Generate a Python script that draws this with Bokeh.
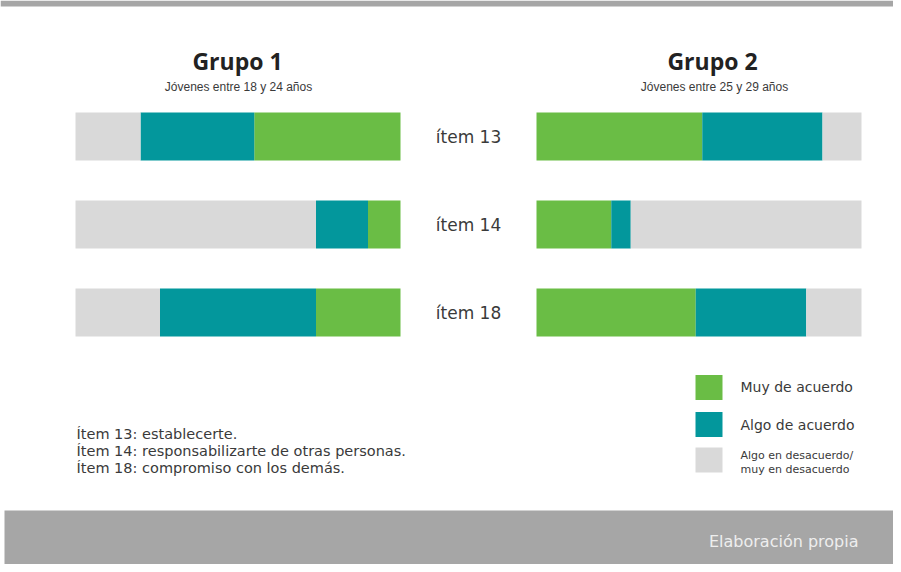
from bokeh.plotting import figure
from bokeh.models import Range1d, ColumnDataSource
from bokeh.core.properties import value
from bokeh.embed import file_html
from bokeh.resources import INLINE

# ---- data ----
items = ["ítem 13", "ítem 14", "ítem 18"]
g1_muy = [45, 10, 26]
g1_algo = [35, 16, 48]
g1_des = [20, 74, 26]
g2_muy = [51, 23, 49]
g2_algo = [37, 6, 34]
g2_des = [12, 71, 17]
groups = ["Grupo 1", "Grupo 2"]
subtitles = ["Jóvenes entre 18 y 24 años", "Jóvenes entre 25 y 29 años"]
legend_labels = ["Muy de acuerdo", "Algo de acuerdo", "Algo en desacuerdo/\nmuy en desacuerdo"]
notes = ["Ítem 13: establecerte.",
         "Ítem 14: responsabilizarte de otras personas.",
         "Ítem 18: compromiso con los demás."]
source_text = "Elaboración propia"

GREEN = "#6abd45"
TEAL = "#03979c"
GRAY = "#d9d9d9"
FONT = "DejaVu Sans"

# ---- layout (picture pixel coordinates) ----
W, H = 893, 564
X0, Y0 = 0, 0
X1, Y1 = X0 + W, Y0 + H

p = figure(width=W, height=H, output_backend="svg", toolbar_location=None,
           x_range=Range1d(X0, X1), y_range=Range1d(Y1, Y0),
           min_border=0, background_fill_color="white")
p.axis.visible = False
p.grid.visible = False
p.outline_line_color = None

# bar scales
px_per_unit = 3.25
g1_zero, g2_zero = 400, 536
p.extra_x_ranges = {
    "g1": Range1d(start=(g1_zero - X0) / px_per_unit, end=(g1_zero - X1) / px_per_unit),
    "g2": Range1d(start=(X0 - g2_zero) / px_per_unit, end=(X1 - g2_zero) / px_per_unit),
}
row0, row_step, bar_h = 136, 88, 48
p.extra_y_ranges = {
    "items": Range1d(start=(Y1 - row0) / row_step, end=(Y0 - row0) / row_step),
}

idx = list(range(len(items)))
src1 = ColumnDataSource(dict(y=idx, muy=g1_muy, algo=g1_algo, des=g1_des))
src2 = ColumnDataSource(dict(y=idx, muy=g2_muy, algo=g2_algo, des=g2_des))

p.hbar_stack(["muy", "algo", "des"], y="y", height=bar_h / row_step, source=src1,
             color=[GREEN, TEAL, GRAY], line_color=None,
             x_range_name="g1", y_range_name="items")
p.hbar_stack(["muy", "algo", "des"], y="y", height=bar_h / row_step, source=src2,
             color=[GREEN, TEAL, GRAY], line_color=None,
             x_range_name="g2", y_range_name="items")

# item labels
p.text(x=[468] * len(items), y=idx, text=items, y_range_name="items",
       text_font=value(FONT), text_font_size="17px", text_color="#3a3a3a",
       text_align="center", text_baseline="middle")

# top band & footer
p.quad(left=[X0], right=[X1], top=[Y0], bottom=[Y0 + 6], color="#a6a6a6", line_color=None)
p.quad(left=[X0 + 4], right=[X1], top=[510], bottom=[Y1], color="#a6a6a6", line_color=None)
p.text(x=[858], y=[541], text=[source_text], text_font=value(FONT), text_font_size="16px",
       text_color="#eeeeee", text_align="right", text_baseline="middle")

# titles
p.text(x=[237, 712], y=[60, 60], text=groups, text_font=value("Open Sans"),
       text_font_size="23px", text_font_style="bold", text_color="#222222",
       text_align="center", text_baseline="middle")
p.text(x=[238, 714], y=[86, 86], text=subtitles, text_font=value("Liberation Sans"),
       text_font_size="12px", text_color="#3a3a3a",
       text_align="center", text_baseline="middle")

# legend
sw_y = [387, 424, 459.5]
p.rect(x=[708.5] * 3, y=sw_y, width=27, height=25, color=[GREEN, TEAL, GRAY], line_color=None)
p.text(x=[740, 740], y=[386, 424], text=legend_labels[:2], text_font=value(FONT),
       text_font_size="14px", text_color="#3a3a3a", text_baseline="middle")
p.text(x=[740, 740], y=[455, 469], text=legend_labels[2].split("\n"), text_font=value(FONT),
       text_font_size="11px", text_color="#3a3a3a", text_baseline="middle")

# notes
p.text(x=[76] * 3, y=[433, 450, 467], text=notes, text_font=value(FONT),
       text_font_size="14.5px", text_color="#3a3a3a", text_baseline="middle")

open("out.html", "w").write(file_html(p, INLINE))
